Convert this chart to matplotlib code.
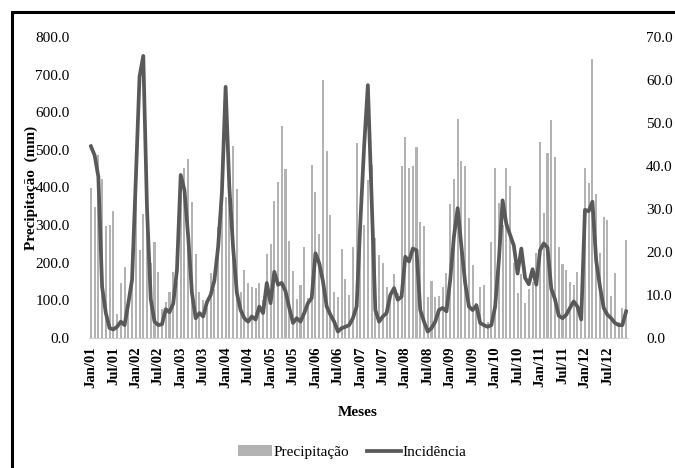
import numpy as np
import matplotlib
matplotlib.use("Agg")
import matplotlib.pyplot as plt
from matplotlib.patches import Rectangle

plt.rcParams['font.family'] = ['Liberation Serif', 'DejaVu Serif']

# monthly precipitation (mm), Jan/01 .. Dec/12
precip = [
    398, 349, 487, 423, 299, 300, 338, 63, 147, 188, 90, 160,
    465, 234, 330, 416, 199, 256, 175, 76, 97, 121, 176, 150,
    380, 452, 477, 362, 222, 123, 101, 80, 172, 130, 296, 345,
    376, 487, 511, 395, 121, 181, 146, 136, 132, 146, 100, 223,
    250, 365, 414, 564, 449, 259, 179, 104, 142, 243, 106, 460,
    389, 276, 686, 496, 327, 121, 108, 237, 158, 115, 241, 519,
    230, 300, 420, 460, 265, 221, 199, 136, 119, 170, 119, 456,
    533, 451, 457, 507, 309, 299, 110, 152, 110, 112, 136, 174,
    356, 423, 582, 471, 458, 318, 194, 92, 136, 142, 43, 254,
    453, 360, 300, 451, 405, 200, 120, 170, 94, 130, 150, 225,
    522, 333, 491, 580, 480, 243, 196, 181, 150, 141, 175, 100,
    451, 413, 742, 383, 225, 321, 314, 112, 174, 43, 79, 261,
]

# monthly incidence
incid = [
    44.6, 42.5, 37.5, 11.9, 5.8, 2.3, 2.0, 2.6, 3.8, 3.0, 8.1, 13.5,
    36.7, 60.8, 65.6, 30.0, 9.0, 3.8, 3.0, 3.2, 6.7, 6.0, 8.0, 15.8,
    37.9, 34.4, 23.6, 10.5, 4.6, 5.8, 5.0, 8.3, 10.0, 13.4, 21.2, 33.7,
    58.4, 35.0, 21.0, 10.5, 6.5, 4.6, 3.8, 5.0, 4.3, 7.3, 5.8, 12.8,
    8.1, 15.4, 12.4, 12.8, 10.9, 7.0, 3.5, 4.6, 3.8, 5.8, 8.1, 9.3,
    19.7, 17.4, 13.2, 7.3, 5.4, 3.8, 1.5, 2.3, 2.6, 3.0, 4.6, 7.3,
    27.0, 44.5, 58.8, 32.9, 6.5, 3.8, 5.0, 5.8, 10.0, 11.6, 8.9, 9.6,
    18.9, 17.8, 20.8, 20.4, 6.5, 3.8, 1.5, 2.3, 3.8, 6.5, 7.0, 6.2,
    13.5, 23.6, 30.2, 21.2, 12.8, 7.3, 6.5, 7.6, 3.5, 3.0, 2.6, 3.0,
    7.3, 18.1, 32.0, 26.5, 24.0, 21.5, 15.0, 20.8, 14.0, 12.5, 16.0, 12.4,
    20.4, 22.0, 21.0, 11.5, 9.0, 5.2, 4.6, 5.4, 7.0, 8.5, 7.3, 4.3,
    29.8, 29.5, 31.7, 18.0, 12.0, 7.0, 5.4, 4.6, 3.5, 3.0, 3.0, 6.2,
]

years = ['01', '02', '03', '04', '05', '06', '07', '08', '09', '10', '11', '12']
tick_labels = []
for y in years:
    tick_labels += ['Jan/' + y, 'Jul/' + y]

x = np.arange(len(precip))

fig = plt.figure(figsize=(6.75, 4.68), dpi=100)
ax1 = fig.add_axes([89/675, 1 - 338/468, (628 - 89)/675, (338 - 37)/468])
ax2 = ax1.twinx()

bars = ax1.bar(x, precip, width=0.55, color='#b3b3b3', label='Precipitação')
line, = ax2.plot(x, incid, color='#595959', lw=2.7, label='Incidência')

ax1.set_xlim(-0.5, len(precip) - 0.5)
ax1.set_ylim(0, 800)
ax2.set_ylim(0, 70)
ax1.set_yticks(np.arange(0, 801, 100))
ax1.set_yticklabels([f'{v:.1f}' for v in np.arange(0, 801, 100)], fontsize=11)
ax2.set_yticks(np.arange(0, 71, 10))
ax2.set_yticklabels([f'{v:.1f}' for v in np.arange(0, 71, 10)], fontsize=11)
ax1.set_xticks(np.arange(0, len(precip), 6))
ax1.set_xticklabels(tick_labels, rotation=90, fontsize=10.5, fontweight='bold')

for a in (ax1, ax2):
    a.tick_params(length=0)
    for s in ('top', 'left', 'right'):
        a.spines[s].set_visible(False)
    a.spines['bottom'].set_color('#d0d0d0')
ax2.spines['bottom'].set_visible(False)
ax1.tick_params(axis='y', pad=14)
ax2.tick_params(axis='y', pad=13)
ax1.tick_params(axis='x', pad=6)

fig.text(31/675, 1 - 188/468, 'Precipitação  (mm)', rotation=90, ha='center',
         va='center', fontsize=11, fontweight='bold')
fig.text(358/675, 1 - 412/468, 'Meses', ha='center', va='center',
         fontsize=11, fontweight='bold')

fig.legend([bars, line], ['Precipitação', 'Incidência'], loc='center',
           bbox_to_anchor=(352/675, 1 - 452/468), ncol=2, frameon=False,
           fontsize=11, handlelength=2.2, handletextpad=0.1, columnspacing=1.2)

# outer frame, only left and top edges fall inside the image
fig.patches.append(Rectangle((12/675, -0.2), 1.2, 1.2 - 12/468,
                             transform=fig.transFigure, fill=False,
                             edgecolor='black', lw=2.2))

fig.savefig('out.png', dpi=100)
